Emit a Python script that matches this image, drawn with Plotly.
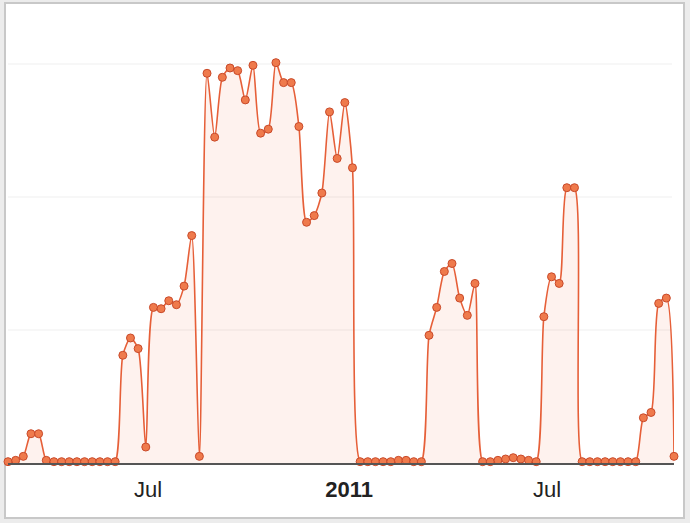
import pandas as pd
import plotly.graph_objects as go

# Weekly values
values = [
    1, 2, 5, 22, 22, 2, 1, 1, 1, 1, 1, 1, 1, 1, 1,
    81, 94, 86, 12, 117, 116, 122, 119, 133, 171, 5,
    293, 245, 290, 297, 295, 273, 299, 248, 251, 301, 286, 286, 253,
    181, 186, 203, 264, 229, 271, 222,
    1, 1, 1, 1, 1, 2, 2, 1, 1,
    96, 117, 144, 150, 124, 111, 135,
    1, 1, 2, 3, 4, 3, 2, 1,
    110, 140, 135, 207, 207,
    1, 1, 1, 1, 1, 1, 1, 1,
    34, 38, 120, 124, 5,
]
start_week = "2010-02-23"
weeks = pd.date_range(start_week, periods=len(values), freq="7D")

tick_dates = ["2010-07-01", "2011-01-01", "2011-07-01"]
tick_labels = ["Jul", "<b>2011</b>", "Jul"]
grid_levels = [100, 200, 300]

fig = go.Figure()
fig.add_trace(go.Scatter(
    x=weeks, y=values,
    mode="lines+markers",
    line=dict(color="#e65f38", width=1.6, shape="spline", smoothing=0.7),
    marker=dict(symbol="circle", size=8, color="#ef7a4c",
                line=dict(color="#c94a2a", width=1)),
    fill="tozeroy", fillcolor="rgba(250,130,90,0.10)",
    cliponaxis=False,
    hoverinfo="skip",
))

L, R, T, B = 8, 16, 10, 60
W, H = 690, 523
pw, ph = W - L - R, H - T - B

def px_to_paper_x(px):
    return (px - L) / pw

def px_to_paper_y(py):
    return (H - B - py) / ph

# panel frame
fig.add_shape(type="rect", xref="paper", yref="paper",
              x0=px_to_paper_x(5), x1=px_to_paper_x(684),
              y0=px_to_paper_y(518), y1=px_to_paper_y(3),
              line=dict(color="#c8c8c8", width=2), fillcolor="white",
              layer="below")

for g in grid_levels:
    fig.add_shape(type="line", xref="paper", yref="y",
                  x0=px_to_paper_x(8), x1=px_to_paper_x(672), y0=g, y1=g,
                  line=dict(color="#f0f0f0", width=1.2), layer="below")

fig.update_layout(
    width=W, height=H,
    margin=dict(l=L, r=R, t=T, b=B),
    paper_bgcolor="#ececec",
    plot_bgcolor="rgba(0,0,0,0)",
    showlegend=False,
    font=dict(family="Liberation Sans, Arial, sans-serif", color="#222222"),
)
fig.update_xaxes(
    range=[weeks[0], weeks[-1]],
    tickvals=tick_dates, ticktext=tick_labels,
    showgrid=False, zeroline=False,
    showline=True, linecolor="#555555", linewidth=1.5,
    ticks="", ticklabelstandoff=6,
    tickfont=dict(size=22, color="#222222"),
)
fig.update_yaxes(
    range=[0, (H - B - T) / 1.33],
    showgrid=False, zeroline=False, showticklabels=False,
    showline=False,
)

fig.write_html("out.html",
               config={"displayModeBar": False},
               post_script="document.body.style.margin='0';document.body.style.overflow='hidden';")
